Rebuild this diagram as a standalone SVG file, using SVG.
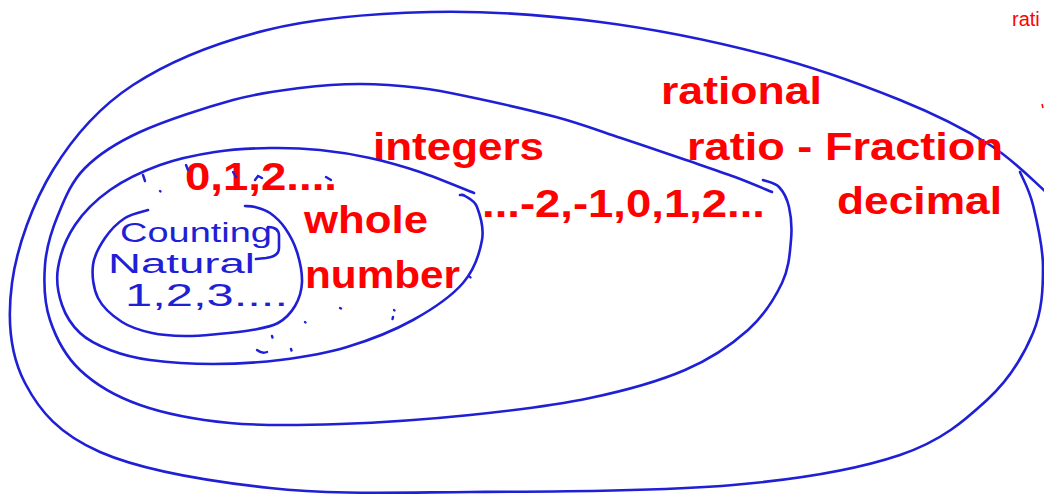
<svg xmlns="http://www.w3.org/2000/svg" width="1044" height="495" viewBox="0 0 1044 495">
<style>
  .pen{fill:none;stroke:#1f1fd6;stroke-width:2.6;stroke-linecap:round;stroke-linejoin:round}
  .dot{fill:none;stroke:#1f1fd6;stroke-width:2.4;stroke-linecap:round}
  .lbl{font-family:"Liberation Sans",Arial,sans-serif;font-weight:bold;font-size:38px;fill:#ff0000}
  .hand{font-family:"Liberation Sans",Arial,sans-serif;font-weight:normal;fill:#1f1fd6}
</style>
<rect width="1044" height="495" fill="#ffffff"/>

<g id="set-rational">
  <path class="pen" d="M 1046,192 C 1036.7,184.2 1014.3,160.3 990,145 C 965.7,129.7 937.2,115 900,100 C 862.8,85 817,68 767,55 C 717,42 656.2,29.2 600,22 C 543.8,14.8 485.5,10.7 430,12 C 374.5,13.3 316.5,17.8 267,30 C 217.5,42.2 168.7,61.7 133,85 C 97.3,108.3 73.2,137 53,170 C 32.8,203 16.7,247.5 12,283 C 7.3,318.5 10.3,354.8 25,383 C 39.7,411.2 59.2,434.2 100,452 C 140.8,469.8 208.3,481.3 270,488 C 331.7,494.7 392.8,492.5 470,492 C 547.2,491.5 661.3,491.2 733,485 C 804.7,478.8 857.7,469.2 900,455 C 942.3,440.8 964.8,420.3 987,400 C 1009.2,379.7 1023.7,355.2 1033,333 C 1042.3,310.8 1043,288.3 1043,267 C 1043,245.7 1036.8,220.8 1033,205 C 1029.2,189.2 1022.2,177.5 1020,172"/>
  <text class="lbl" x="661" y="104" textLength="161" lengthAdjust="spacingAndGlyphs">rational</text>
  <text class="lbl" x="687" y="160" textLength="316" lengthAdjust="spacingAndGlyphs">ratio - Fraction</text>
  <text class="lbl" x="837" y="214" textLength="165" lengthAdjust="spacingAndGlyphs">decimal</text>
</g>

<g id="set-integers">
  <path class="pen" d="M 763,180 C 765.7,181.2 774.7,182.5 779,187 C 783.3,191.5 787,198.2 789,207 C 791,215.8 792.2,227.3 791,240 C 789.8,252.7 789.2,268 782,283 C 774.8,298 764.2,315.5 748,330 C 731.8,344.5 711.3,358.7 685,370 C 658.7,381.3 625.8,390.5 590,398 C 554.2,405.5 511.7,410.7 470,415 C 428.3,419.3 380,422.7 340,424 C 300,425.3 263.3,426.2 230,423 C 196.7,419.8 165,413.8 140,405 C 115,396.2 95,384.2 80,370 C 65,355.8 55.8,337.5 50,320 C 44.2,302.5 43.7,282.5 45,265 C 46.3,247.5 51.3,231.2 58,215 C 64.7,198.8 71.3,181.8 85,168 C 98.7,154.2 115.3,143.3 140,132 C 164.7,120.7 206.3,107.3 233,100 C 259.7,92.7 278.8,90.7 300,88 C 321.2,85.3 340,84 360,84 C 380,84 401.7,85.8 420,88 C 438.3,90.2 447.3,92.2 470,97 C 492.7,101.8 530.8,110.2 556,117 C 581.2,123.8 599.3,130.8 621,138 C 642.7,145.2 667,153.5 686,160 C 705,166.5 720.7,171.7 735,177 C 749.3,182.3 765.8,189.5 772,192"/>
  <text class="lbl" x="373" y="160" textLength="171" lengthAdjust="spacingAndGlyphs">integers</text>
  <text class="lbl" x="482" y="217" textLength="283" lengthAdjust="spacingAndGlyphs">...-2,-1,0,1,2...</text>
</g>

<g id="set-whole">
  <path class="pen" d="M 474,193 C 465,189.5 437.3,177.8 420,172 C 402.7,166.2 386.7,161.7 370,158 C 353.3,154.3 336.7,151.7 320,150 C 303.3,148.3 287.5,147.7 270,148 C 252.5,148.3 233.3,149.2 215,152 C 196.7,154.8 177.5,158.7 160,165 C 142.5,171.3 124.2,180 110,190 C 95.8,200 83.7,212 75,225 C 66.3,238 60.2,254.7 58,268 C 55.8,281.3 58.3,294.2 62,305 C 65.7,315.8 72,325.5 80,333 C 88,340.5 98.3,345.5 110,350 C 121.7,354.5 132.8,357.7 150,360 C 167.2,362.3 191.3,364 213,364 C 234.7,364 257.7,362.8 280,360 C 302.3,357.2 324.8,353.7 347,347 C 369.2,340.3 393.7,330.7 413,320 C 432.3,309.3 451.5,296.3 463,283 C 474.5,269.7 479.7,252.7 482,240 C 484.3,227.3 479.8,214.3 477,207 C 474.2,199.7 467.8,198 465,196 C 462.2,194 460.8,195.2 460,195"/>
  <text class="lbl" x="185" y="190" textLength="152" lengthAdjust="spacingAndGlyphs">0,1,2....</text>
  <text class="lbl" x="304" y="233" textLength="124" lengthAdjust="spacingAndGlyphs">whole</text>
  <text class="lbl" x="305" y="288" textLength="155" lengthAdjust="spacingAndGlyphs">number</text>
</g>

<g id="set-counting">
  <path class="pen" d="M 148,210 C 144.2,211.3 132.2,213.3 125,218 C 117.8,222.7 110.3,230.2 105,238 C 99.7,245.8 94.2,255 93,265 C 91.8,275 93.2,288.5 98,298 C 102.8,307.5 113,316.2 122,322 C 131,327.8 141.5,330.7 152,333 C 162.5,335.3 174,335.8 185,336 C 196,336.2 206.8,335 218,334 C 229.2,333 242,331.8 252,330 C 262,328.2 270.8,327 278,323 C 285.2,319 291,312.8 295,306 C 299,299.2 301.7,291 302,282 C 302.3,273 299.8,261 297,252 C 294.2,243 289.5,234.5 285,228 C 280.5,221.5 275,216.5 270,213 C 265,209.5 259.2,208.2 255,207 C 250.8,205.8 246.7,206.2 245,206"/>
  <text class="hand" x="120" y="242" font-size="27" textLength="152" lengthAdjust="spacingAndGlyphs">Counting</text>
  <text class="hand" x="108" y="273" font-size="27" textLength="147" lengthAdjust="spacingAndGlyphs">Natural</text>
  <text class="hand" x="125" y="306" font-size="32" textLength="163" lengthAdjust="spacingAndGlyphs">1,2,3....</text>
</g>

<g id="connectors">
  <path class="pen" d="M 268,227 C 274,227 279,229 279,236 L 279,248 C 279,254 274,257 266,258 L 256,259"/>
</g>

<g id="marks">
  <path class="dot" d="M 143,175 L 145,181"/>
  <path class="dot" d="M 160,191 L 160.5,191.5"/>
  <path class="dot" d="M 186,165 L 188,170"/>
  <path class="dot" d="M 233,172 L 236,177"/>
  <path class="dot" d="M 255,180 L 258,176 L 262,178"/>
  <path class="dot" d="M 326,177 L 331,180"/>
  <path class="dot" d="M 340,308 L 341,308.5"/>
  <path class="dot" d="M 305,322 L 305.5,322.5"/>
  <path class="dot" d="M 394,310 L 394.5,310.5"/>
  <path class="dot" d="M 393,317 L 392.5,319"/>
  <path class="dot" d="M 272,336 L 272.5,337.5"/>
  <path class="dot" d="M 291,349 L 291.5,350.5"/>
  <path class="dot" d="M 257,350 Q 262,354 267,352"/>
  <path class="dot" d="M 470,277 L 470.5,277.5"/>
</g>

<g id="corner-note">
  <text x="1012" y="26" font-family="'Liberation Sans',Arial,sans-serif" font-size="20" fill="#ff0000">rati</text>
  <path d="M 1042,104 L 1043,108" stroke="#ff0000" stroke-width="1.5" fill="none"/>
</g>
</svg>
